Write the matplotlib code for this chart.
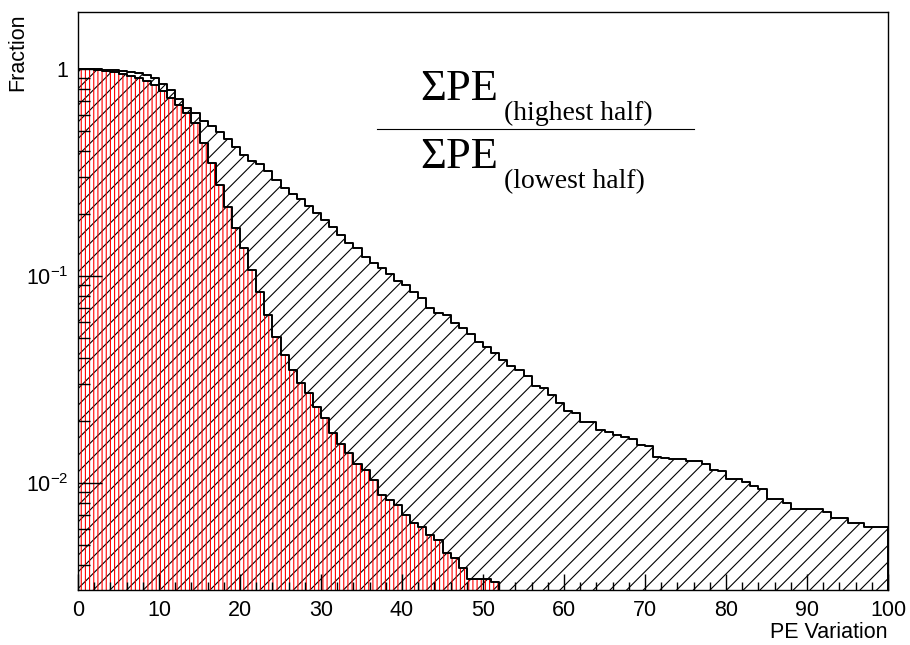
import matplotlib
matplotlib.use("Agg")
import matplotlib.pyplot as plt
from matplotlib.lines import Line2D
from matplotlib.ticker import MultipleLocator, LogLocator, FixedLocator, NullFormatter
import numpy as np

plt.rcParams['font.family'] = ['Liberation Sans', 'DejaVu Sans']
plt.rcParams['hatch.linewidth'] = 0.8

# 1 PE-wide bins from 0 to 100
bin_edges = np.arange(0, 101, 1)

# fraction of events above the PE-variation cut (all events)
frac_all = [
    1.000, 1.000, 0.997, 0.989, 0.986, 0.978, 0.971, 0.960, 0.935, 0.902,
    0.849, 0.794, 0.718, 0.648, 0.613, 0.561, 0.532, 0.498, 0.459, 0.418,
    0.384, 0.361, 0.346, 0.322, 0.292, 0.266, 0.248, 0.236, 0.217, 0.2015,
    0.187, 0.172, 0.158, 0.145, 0.136, 0.124, 0.115, 0.109, 0.102, 0.0946,
    0.0905, 0.0840, 0.0779, 0.0702, 0.0664, 0.0647, 0.0594, 0.0558, 0.0525, 0.0482,
    0.0456, 0.0426, 0.0393, 0.0367, 0.0351, 0.0329, 0.0294, 0.0289, 0.0266, 0.0244,
    0.0223, 0.0219, 0.0196, 0.0196, 0.0180, 0.0177, 0.0171, 0.0167, 0.0164, 0.0153,
    0.0151, 0.0133, 0.0132, 0.0131, 0.0131, 0.0128, 0.0127, 0.0124, 0.0116, 0.0114,
    0.0105, 0.0105, 0.0101, 0.0097, 0.0093, 0.0084, 0.0084, 0.0080, 0.0075, 0.0075,
    0.0075, 0.0075, 0.0072, 0.0068, 0.0068, 0.0064, 0.0064, 0.0061, 0.0061, 0.0061,
]

# same fraction for the selected sample, empty above 52
frac_sel = [
    1.000, 0.997, 0.989, 0.978, 0.967, 0.951, 0.930, 0.903, 0.872, 0.837,
    0.783, 0.724, 0.670, 0.613, 0.548, 0.439, 0.351, 0.275, 0.216, 0.1715,
    0.136, 0.107, 0.0837, 0.0648, 0.0507, 0.0415, 0.0351, 0.0304, 0.0272, 0.0233,
    0.0206, 0.0174, 0.0154, 0.0139, 0.0124, 0.0116, 0.0103, 0.00875, 0.00828, 0.00783,
    0.0070, 0.00639, 0.00615, 0.00561, 0.00530, 0.00458, 0.00433, 0.00387, 0.00344, 0.00344,
    0.00344, 0.00334,
]

ymin, ymax = 0.00304, 1.886
floor = 1e-5

fig = plt.figure(figsize=(9.1, 6.45), dpi=100)
ax = fig.add_axes([78 / 910, 55 / 645, 810 / 910, 578 / 645])

a = np.array(frac_all)
s = np.array(frac_sel)
e_all = bin_edges
e_sel = bin_edges[:len(s) + 1]

# hatched areas
ax.fill_between(e_all, np.r_[a, a[-1]], floor, step='post', facecolor='none',
                edgecolor='black', hatch='//', linewidth=0)
ax.fill_between(e_sel, np.r_[s, s[-1]], floor, step='post', facecolor='none',
                edgecolor='red', hatch='||||', linewidth=0)

# outlines
ax.step(e_all, np.r_[a, floor], where='post', color='black', lw=1.4)
ax.step(e_sel, np.r_[s, floor], where='post', color='black', lw=1.4)

ax.set_xlim(0, 100)
ax.set_yscale('log')
ax.set_ylim(ymin, ymax)

ax.xaxis.set_major_locator(MultipleLocator(10))
ax.xaxis.set_minor_locator(MultipleLocator(2))
ax.yaxis.set_major_locator(FixedLocator([0.01, 0.1, 1]))
ax.yaxis.set_minor_locator(LogLocator(base=10, subs=np.arange(2, 10)))
ax.yaxis.set_minor_formatter(NullFormatter())
ax.set_yticklabels([r'$\mathregular{10^{-2}}$', r'$\mathregular{10^{-1}}$', '1'])

ax.tick_params(axis='both', which='both', direction='in', top=False, right=False,
               labelsize=15.5, pad=7, width=1.0)
ax.tick_params(axis='x', which='major', length=11.5)
ax.tick_params(axis='x', which='minor', length=6)
ax.tick_params(axis='y', which='major', length=17)
ax.tick_params(axis='y', which='minor', length=8.6)
for sp in ax.spines.values():
    sp.set_linewidth(1.0)

ax.set_xlabel('PE Variation', fontsize=15.5, loc='right', labelpad=1)
ax.set_ylabel('Fraction', fontsize=15.5, loc='top')
ax.yaxis.set_label_coords(-0.062, 0.998)

# ratio formula
W, H = 910, 645
serif = ['Liberation Serif', 'DejaVu Serif']
fig.text(420 / W, 1 - 100 / H, 'ΣPE', family=serif, fontsize=32, va='baseline')
fig.text(504 / W, 1 - 120 / H, '(highest half)', family=serif, fontsize=20, va='baseline')
fig.text(420 / W, 1 - 168 / H, 'ΣPE', family=serif, fontsize=32, va='baseline')
fig.text(504 / W, 1 - 188 / H, '(lowest half)', family=serif, fontsize=20, va='baseline')
fig.add_artist(Line2D([377 / W, 694 / W], [1 - 129 / H, 1 - 129 / H],
                      color='black', lw=0.8, transform=fig.transFigure))

fig.savefig('out.png', dpi=100)
